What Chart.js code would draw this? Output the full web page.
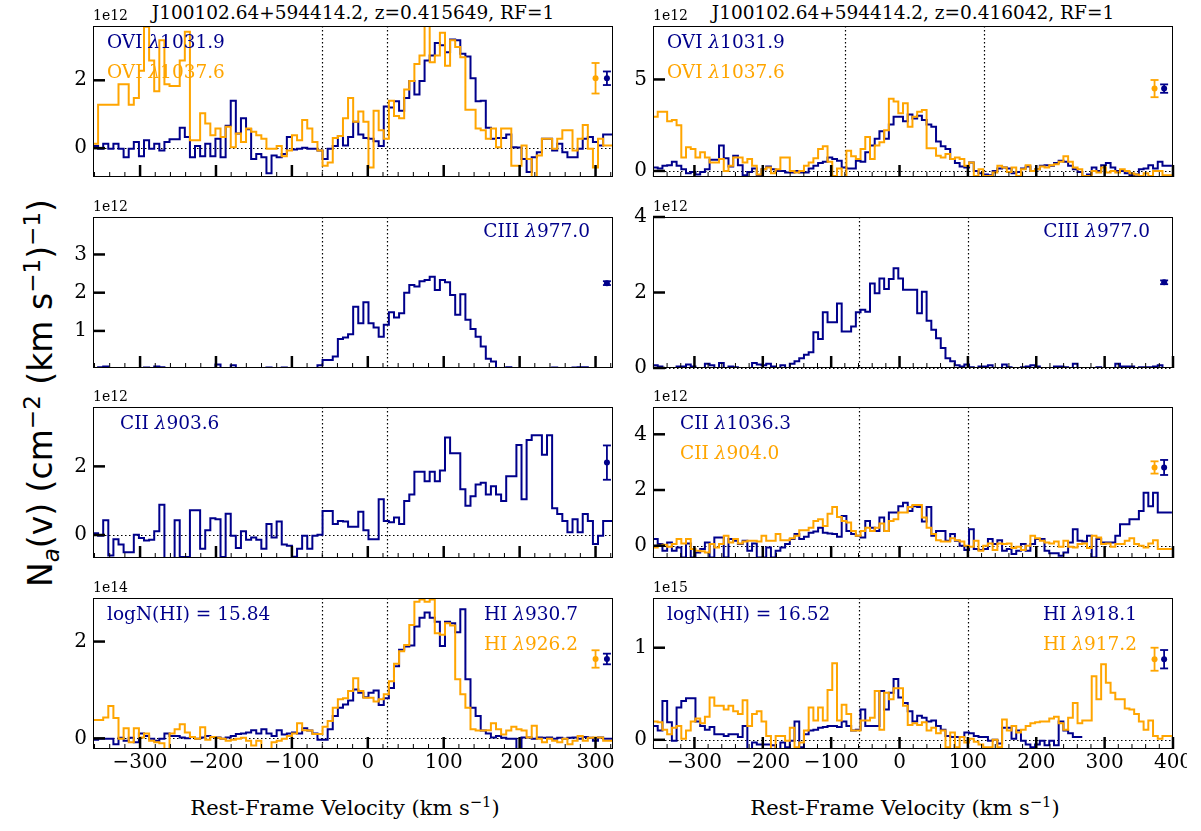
<!DOCTYPE html>
<html lang="en">
<head>
<meta charset="UTF-8" />
<title>J100102.64+594414.2 apparent column density profiles</title>
<script src="https://cdn.jsdelivr.net/npm/chart.js"></script>
<style>
    body {
        margin: 0;
        background: #fff;
        width: 1201px;
        height: 831px;
        position: relative;
        overflow: hidden;
    }
    canvas.panel {
        position: absolute;
    }
    .txt {
        position: absolute;
        transform: translate(-50%, -50%);
        white-space: nowrap;
        color: #000;
    }
    .serif {
        font-family: 'DejaVu Serif', serif;
    }
    .title { font-size: 18.5px; }
    .xlabel { font-size: 21px; }
    #ylabel {
        font-family: 'DejaVu Sans', sans-serif;
        font-size: 33px;
        transform: translate(-50%, -50%) rotate(-90deg);
    }
    sup, sub {
        font-size: 0.7em;
        line-height: 0;
    }
</style>
</head>
<body>

<div class="txt serif title" style="left:353px; top:12px;">J100102.64+594414.2, z=0.415649, RF=1</div>
<div class="txt serif title" style="left:913px; top:12px;">J100102.64+594414.2, z=0.416042, RF=1</div>
<div class="txt serif xlabel" style="left:345px; top:808px;">Rest-Frame Velocity (km s<sup>−1</sup>)</div>
<div class="txt serif xlabel" style="left:905px; top:808px;">Rest-Frame Velocity (km s<sup>−1</sup>)</div>
<div class="txt" id="ylabel" style="left:40px; top:393px;">N<sub><i>a</i></sub>(v) (cm<sup>−2</sup> (km s<sup>−1</sup>)<sup>−1</sup>)</div>

<script>
    const NAVY = '#00008b';
    const ORANGE = '#ffa500';

    // velocity grids (left edge of first pixel, pixel width in km/s)
    const velLeftStart = -362, velLeftStep = 6.72;
    const velRightStart = -360.6, velRightStep = 6.9;

    // ---- z = 0.415649 system (units of the offset shown above each panel) ----
    const ovi1031_a = [
        -0.32, 0.06, -0.02, 0.13, -0.02, 0.13, -0.02, -0.27, -0.02, 0.18,
        -0.24, 0.23, -0.02, 0.13, -0.07, 0.18, 0.26, 0.26, 0.60, 0.33,
        -0.27, 0.06, -0.24, 0.13, -0.24, 0.28, -0.27, 0.66, 1.40, 0.43,
        0.88, 0.56, -0.32, -0.17, -0.27, -0.74, -0.22, -0.27, -0.17, 0.33,
        -0.04, -0.02, 0.01, -0.02, -0.02, -0.07, -0.32, -0.02, 0.06, 0.36,
        0.08, 0.33, 0.78, 0.40, 0.30, 0.28, 0.20, 0.06, 1.23, 1.20,
        1.38, 1.10, 1.48, 1.98, 1.58, 1.98, 2.58, 2.73, 3.10, 3.03,
        2.83, 3.20, 3.18, 2.78, 2.70, 2.06, 1.38, 1.40, 0.60, 0.28,
        0.30, 0.30, 0.40, 0.03, 0.02, -0.32, -0.70, -0.27, -0.12, 0.28,
        0.28, -0.07, 0.13, -0.12, -0.27, -0.27, -0.02, 0.28, 0.33, 0.18,
        0.08, 0.40
    ];
    const ovi1037_a = [
        1.33, 0.13, 1.28, 1.28, 1.28, 1.28, 1.88, 1.88, 1.28, 1.48,
        2.28, 3.58, 2.58, 1.68, 3.18, 1.88, 1.83, 1.83, 2.58, 3.43,
        0.23, 0.23, 1.03, 0.73, 0.38, 0.58, 0.33, 0.63, 0.03, 0.43,
        0.18, 0.58, 0.48, 0.38, 0.28, -0.02, -0.02, 0.06, -0.24, -0.07,
        0.38, 0.23, 0.83, 0.58, 0.18, -0.07, -0.52, -0.42, 0.30, 0.36,
        0.88, 1.48, 0.78, 1.08, 0.78, -0.57, 1.10, 0.53, 0.28, 1.40,
        0.95, 0.88, 1.73, 1.98, 2.48, 2.73, 3.63, 2.53, 2.73, 3.40,
        2.43, 3.18, 2.98, 2.68, 1.13, 1.13, 0.58, 0.53, 0.28, 0.58,
        0.03, 0.58, 0.58, -0.52, -0.52, 0.08, -0.32, -0.92, -0.22, 0.28,
        0.28, -0.02, 0.28, 0.53, 0.53, -0.07, 0.28, 0.68, -0.02, -0.57,
        0.28, 0.08
    ];
    const ciii977_a = [
        0, 0, 0.05, 0.07, 0, -0.1, 0, 0, 0, -0.05,
        0, 0.04, 0.02, 0.07, 0.05, 0.03, -0.05, 0, 0.03, -0.1,
        -0.1, 0, 0.02, -0.1, 0, 0.12, -0.05, 0, 0.1, 0,
        -0.1, -0.05, 0.02, 0.03, -0.02, 0.04, 0.03, -0.05, 0.04, 0.01,
        -0.1, 0.02, 0.01, -0.1, 0.02, 0.10, 0.24, 0.24, 0.33, 0.79,
        0.83, 0.91, 1.63, 1.20, 1.75, 1.20, 1.09, 0.85, 1.16, 1.49,
        1.35, 1.46, 2.00, 2.20, 2.16, 2.30, 2.33, 2.42, 2.07, 2.33,
        2.27, 1.94, 1.42, 1.96, 1.29, 1.05, 0.85, 0.59, 0.27, 0.20,
        0.03, 0.03, 0.05, 0.02, -0.05, 0, 0.01, -0.1, 0.02, 0.03,
        -0.02, 0.04, -0.05, 0, 0.01, 0.04, 0.05, 0.05, -0.03, 0,
        0.02, -0.05
    ];
    const cii903_a = [
        -0.12, 0.05, -0.02, 0.43, -0.60, -0.12, -0.28, -0.50, -0.50, 0.01,
        -0.09, -0.16, -0.14, 0.11, 0.88, -0.69, -0.69, 0.43, -0.64, -0.64,
        0.72, 0.72, -0.40, 0.14, 0.49, 0.46, -0.64, 0.62, -0.02, -0.38,
        0.11, -0.14, -0.07, -0.14, -0.40, 0.32, -0.07, 0.39, -0.28, -0.31,
        -0.63, -0.40, -0.02, -0.40, -0.02, 0.01, 0.70, 0.70, 0.32, 0.41,
        0.39, 0.24, 0.24, 0.68, 0.14, -0.12, -0.12, 1.04, 0.41, 0.37,
        0.51, 0.32, 0.99, 1.18, 1.84, 1.84, 1.57, 1.84, 1.57, 1.88,
        2.84, 2.38, 2.38, 1.33, 0.85, 1.13, 1.47, 1.52, 1.18, 1.42,
        1.18, 0.99, 1.71, 1.71, 2.62, 1.04, 2.77, 2.91, 2.91, 2.34,
        2.91, 0.78, 0.61, 0.41, 0.08, 0.46, 0.08, 0.61, 0.41, -0.26,
        -0.02, 0.41
    ];
    const hi930_a = [
        0.02, -0.03, -0.01, -0.01, -0.01, -0.12, 0.01, -0.05, 0.01, -0.08,
        0.10, 0.05, -0.01, -0.05, -0.01, 0.10, 0.05, 0.05, 0.02, 0.00,
        0.03, -0.01, 0.02, 0.05, 0.03, 0.02, -0.01, 0.02, 0.05, 0.09,
        0.10, 0.12, 0.17, 0.10, 0.19, 0.10, 0.05, 0.17, 0.08, 0.10,
        0.12, 0.10, 0.21, 0.16, 0.10, -0.03, -0.03, 0.19, 0.46, 0.63,
        0.70, 0.78, 1.01, 0.94, 0.85, 0.94, 0.99, 0.69, 0.83, 1.04,
        1.49, 1.83, 1.90, 1.92, 2.31, 2.49, 2.60, 2.49, 2.41, 1.91,
        2.41, 2.38, 2.19, 2.67, 1.22, 0.63, 0.46, 0.16, 0.10, 0.02,
        0.05, 0.01, -0.01, -0.01, -0.22, 0.02, 0.02, -0.01, 0.02, 0.01,
        0.02, -0.01, 0.01, -0.01, 0.01, 0.02, -0.01, 0.03, 0.01, -0.05,
        0.02, -0.01
    ];
    const hi926_a = [
        -0.08, 0.38, 0.38, 0.43, 0.67, 0.42, -0.01, 0.21, -0.08, 0.21,
        0.02, 0.10, -0.05, -0.08, -0.10, -0.22, 0.10, 0.19, 0.29, 0.12,
        0.03, -0.01, 0.23, -0.03, 0.03, 0.01, -0.01, -0.05, -0.03, -0.01,
        0.01, -0.05, -0.15, -0.05, -0.22, -0.22, -0.08, -0.05, -0.01, 0.05,
        0.10, 0.31, 0.17, 0.16, 0.09, 0.09, 0.24, 0.36, 0.63, 0.81,
        0.83, 0.98, 1.24, 0.98, 0.84, 0.84, 0.76, 0.81, 0.91, 1.18,
        1.54, 1.80, 1.93, 2.34, 2.82, 2.87, 2.82, 2.87, 2.17, 2.14,
        2.38, 2.33, 1.22, 0.91, 0.63, 0.19, 0.16, 0.16, 0.17, 0.31,
        0.19, 0.08, 0.16, 0.24, 0.19, 0.16, 0.02, 0.26, -0.01, -0.08,
        -0.01, -0.05, -0.08, -0.01, -0.12, -0.05, 0.05, -0.05, 0.01, 0.02,
        0.02, -0.05
    ];

    // ---- z = 0.416042 system ----
    const ovi1031_b = [
        0.09, 0.19, 0.13, 0.28, 0.31, 0.50, 0.28, 0.09, -0.13, -0.06,
        -0.19, -0.06, 0.09, 0.61, 0.61, 1.39, 0.69, 0.24, 0.83, 0.31,
        -0.24, -0.06, 0.13, -0.24, 0.09, 0.24, 0.09, 0.00, 0.00, -0.09,
        -0.09, 0.00, -0.09, -0.09, 0.13, 0.28, 0.43, 0.50, 0.74, 0.65,
        0.56, 0.19, 0.13, 0.13, 0.56, 0.50, 1.02, 1.39, 1.76, 2.17,
        1.76, 2.54, 2.96, 2.96, 2.72, 3.09, 2.87, 3.02, 2.78, 2.54,
        2.41, 1.61, 1.35, 1.20, 0.65, 0.43, 0.24, 0.19, 0.46, 0.00,
        -0.13, -0.19, -0.24, 0.00, 0.13, 0.19, 0.13, -0.13, -0.06, 0.13,
        0.24, 0.00, 0.09, 0.28, 0.31, 0.28, 0.43, 0.56, 0.50, 0.28,
        0.09, -0.06, -0.28, -0.19, 0.19, 0.00, 0.31, 0.43, 0.19, 0.00,
        0.00, -0.13, -0.24, -0.19, 0.09, 0.13, 0.31, 0.13, 0.50, 0.28
    ];
    const ovi1037_b = [
        2.41, 2.96, 3.24, 3.24, 2.72, 2.78, 2.50, 0.74, 1.30, 1.20,
        0.74, 1.02, 0.74, 0.46, 0.46, 0.65, 0.00, 0.28, 0.74, 0.74,
        0.46, 0.65, 0.28, -0.19, 0.09, 0.19, -0.13, 0.09, 0.74, 0.74,
        0.00, -0.09, 0.00, 0.28, 0.46, 0.69, 1.20, 1.35, 0.50, -0.28,
        0.13, -0.43, 1.11, 0.80, 0.65, 1.20, 1.85, 0.65, 1.39, 1.57,
        2.22, 3.94, 3.80, 3.15, 3.70, 2.41, 2.96, 3.24, 3.33, 1.24,
        1.24, 0.83, 0.74, 0.93, 0.65, 0.74, 0.65, 0.28, 0.46, -0.28,
        0.09, -0.28, -0.28, -0.09, 0.28, 0.19, -0.06, 0.19, -0.28, 0.09,
        0.31, 0.00, 0.09, 0.24, 0.19, 0.31, 0.37, 0.50, 0.80, 0.50,
        0.19, 0.09, -0.28, -0.28, 0.00, -0.09, 0.19, -0.09, 0.00, -0.09,
        0.09, 0.00, -0.13, -0.19, -0.28, -0.13, -0.28, 0.00, 0.00, -0.24
    ];
    const ciii977_b = [
        0.09, 0.07, 0.04, 0.00, 0.00, 0.00, 0.04, 0.04, 0.09, 0.04,
        0.00, 0.00, 0.11, 0.07, 0.00, 0.13, 0.00, 0.04, 0.02, 0.00,
        0.00, 0.00, 0.13, 0.09, 0.07, 0.11, 0.04, 0.00, 0.07, 0.00,
        0.11, 0.18, 0.26, 0.35, 0.42, 0.95, 0.77, 1.48, 1.21, 1.21,
        1.71, 0.97, 0.97, 1.10, 1.48, 1.54, 1.49, 2.24, 1.98, 2.37,
        2.09, 2.36, 2.64, 2.37, 2.07, 2.07, 2.07, 1.45, 2.02, 1.25,
        1.01, 0.79, 0.53, 0.26, 0.18, 0.07, 0.04, 0.09, 0.02, 0.00,
        0.04, 0.04, 0.07, 0.00, 0.00, 0.09, 0.02, 0.00, 0.00, 0.02,
        0.04, 0.07, 0.04, 0.00, 0.00, 0.00, 0.04, 0.04, 0.02, 0.00,
        0.11, 0.00, 0.00, 0.00, 0.00, 0.02, 0.00, 0.00, 0.00, 0.11,
        0.04, 0.04, 0.04, 0.00, 0.02, 0.02, 0.02, 0.04, 0.07, 0.00
    ];
    const cii1036_b = [
        -0.42, 0.24, 0.06, -0.18, 0.12, -0.18, -0.06, -0.42, 0.08, -0.42,
        -0.24, -0.12, 0.12, -0.42, 0.30, 0.30, -0.42, 0.24, 0.18, 0.06,
        0.18, -0.18, 0.08, -0.42, -0.42, -0.06, -0.42, -0.18, -0.06, 0.06,
        0.24, 0.42, 0.24, 0.32, 0.47, 0.51, 0.65, 0.47, 0.44, 0.42,
        0.32, 1.07, 0.53, 0.42, 0.36, 0.30, 0.89, 0.65, 0.53, 1.01,
        0.53, 1.19, 1.19, 1.42, 1.54, 1.25, 1.42, 1.39, 0.87, 1.39,
        0.36, 0.53, 0.53, 0.18, 0.42, 0.18, 0.00, -0.15, 0.59, -0.12,
        -0.15, -0.12, 0.24, 0.06, 0.20, -0.18, -0.12, -0.30, -0.18, 0.06,
        -0.18, 0.06, 0.24, 0.24, -0.18, -0.27, -0.27, -0.36, -0.24, 0.12,
        0.59, 0.18, 0.15, 0.36, -0.42, 0.24, 0.12, 0.12, 0.12, 0.36,
        0.77, 0.77, 0.95, 0.95, 1.25, 1.90, 1.42, 1.90, 1.19, 1.19
    ];
    const cii904_b = [
        -0.08, -0.06, 0.00, 0.04, -0.04, 0.06, 0.24, 0.08, 0.24, -0.12,
        -0.18, -0.20, -0.24, 0.06, -0.06, 0.06, 0.36, 0.12, 0.24, 0.08,
        0.15, 0.18, 0.18, 0.15, 0.36, 0.18, 0.18, 0.42, 0.20, 0.20,
        0.27, 0.36, 0.56, 0.56, 0.65, 0.89, 0.95, 0.71, 1.15, 1.39,
        1.03, 0.89, 0.83, 0.53, 0.36, 0.53, 0.65, 0.53, 0.65, 0.80,
        0.53, 0.89, 0.95, 1.19, 1.19, 1.39, 1.46, 1.46, 1.01, 0.65,
        0.42, 0.20, 0.15, 0.15, 0.27, 0.20, 0.15, 0.00, -0.04, 0.18,
        -0.18, 0.00, 0.08, -0.15, 0.08, 0.06, 0.08, -0.08, -0.04, -0.15,
        0.00, 0.36, 0.27, 0.18, 0.12, 0.08, 0.15, -0.04, 0.18, -0.04,
        -0.06, 0.06, 0.08, -0.08, 0.36, 0.30, 0.06, 0.08, -0.04, 0.06,
        0.06, 0.18, 0.27, 0.06, 0.00, -0.06, 0.08, 0.20, -0.12, -0.12
    ];
    const hi918_b = [
        0.18, 0.15, 0.10, 0.42, 0.19, -0.01, 0.35, 0.42, 0.45, 0.45,
        0.20, 0.15, 0.11, 0.14, 0.06, 0.06, 0.04, 0.06, 0.06, 0.03,
        0.15, -0.10, -0.03, -0.05, -0.05, -0.05, -0.06, -0.10, -0.03, -0.08,
        -0.01, 0.20, -0.08, 0.06, 0.10, 0.11, 0.13, 0.14, 0.15, 0.15,
        0.14, 0.20, 0.15, 0.10, 0.11, 0.33, 0.15, 0.15, 0.15, 0.53,
        0.33, 0.51, 0.66, 0.46, 0.40, 0.31, 0.20, 0.26, 0.24, 0.20,
        0.21, 0.15, 0.11, 0.04, 0.03, 0.03, 0.03, 0.08, 0.07, 0.04,
        0.03, 0.03, -0.01, 0.00, -0.04, 0.13, 0.13, 0.01, 0.10, -0.01,
        -0.05, -0.08, -0.05, -0.01, -0.06, -0.01, -0.06, 0.20, 0.10, 0.07,
        0.03
    ];
    const hi917_b = [
        0.19, 0.20, 0.19, 0.11, 0.06, 0.13, 0.15, 0.01, 0.10, 0.20,
        0.23, 0.18, 0.25, 0.46, 0.37, 0.37, 0.33, 0.37, 0.31, 0.28,
        0.43, 0.15, 0.28, 0.31, 0.20, 0.04, -0.10, 0.04, 0.04, -0.01,
        0.13, -0.08, -0.03, 0.10, 0.35, 0.21, 0.35, 0.21, 0.54, 0.83,
        0.21, 0.38, 0.28, 0.10, 0.10, 0.21, 0.21, 0.24, 0.53, 0.11,
        0.51, 0.44, 0.56, 0.56, 0.37, 0.16, 0.18, 0.16, 0.19, 0.10,
        0.13, 0.07, 0.10, -0.08, 0.08, -0.08, 0.03, -0.03, 0.01, -0.02,
        -0.05, -0.08, -0.08, 0.00, -0.08, 0.22, 0.10, 0.15, 0.08, 0.11,
        0.15, 0.18, 0.19, 0.20, 0.20, 0.23, 0.25, 0.18, 0.11, 0.24,
        0.40, 0.18, 0.21, 0.21, 0.69, 0.44, 0.82, 0.62, 0.51, 0.44,
        0.44, 0.34, 0.33, 0.28, 0.20, 0.11, 0.21, 0.04, 0.01, 0.04
    ];

    // typical per-pixel uncertainty markers: [centre, half-width]
    const errOvi_a = { orange: [2.06, 0.45], navy: [2.06, 0.20] };
    const errCiii_a = { navy: [2.25, 0.05] };
    const errCii_a = { navy: [2.11, 0.50] };
    const errHi_a = { orange: [1.64, 0.18], navy: [1.64, 0.11] };
    const errOvi_b = { orange: [4.50, 0.47], navy: [4.50, 0.23] };
    const errCiii_b = { navy: [2.27, 0.05] };
    const errCii_b = { orange: [2.81, 0.22], navy: [2.81, 0.27] };
    const errHi_b = { orange: [0.875, 0.125], navy: [0.875, 0.10] };

    const xTicksLeft = [-300, -200, -100, 0, 100, 200, 300];
    const xTicksRight = [-300, -200, -100, 0, 100, 200, 300, 400];

    // plot-area geometry
    const COL_X = [93, 653];
    const ROW_Y = [26, 217, 407, 598];
    const PLOT_W = 520, PLOT_H = 151;
    const PAD = { left: 60, top: 26, right: 14, bottom: 34 };

    const cols = [
        { v0: velLeftStart, dv: velLeftStep, xMin: -362, xMax: 323, xTicks: xTicksLeft, errX: [300, 315] },
        { v0: velRightStart, dv: velRightStep, xMin: -360.6, xMax: 400, xTicks: xTicksRight, errX: [373, 387] }
    ];

    const panels = [
        { col: 0, row: 0, offset: '1e12', yMin: -0.85, yMax: 3.6, yTicks: [0, 2], vlines: [-60, 25],
          navy: ovi1031_a, orange: ovi1037_a, err: errOvi_a,
          labels: [{ t: 'OVI λ1031.9', c: NAVY, x: 14, y: 17 }, { t: 'OVI λ1037.6', c: ORANGE, x: 14, y: 47 }] },
        { col: 1, row: 0, offset: '1e12', yMin: -0.33, yMax: 7.92, yTicks: [0, 5], vlines: [-80, 124],
          navy: ovi1031_b, orange: ovi1037_b, err: errOvi_b,
          labels: [{ t: 'OVI λ1031.9', c: NAVY, x: 14, y: 17 }, { t: 'OVI λ1037.6', c: ORANGE, x: 14, y: 47 }] },
        { col: 0, row: 1, offset: '1e12', yMin: 0.03, yMax: 3.98, yTicks: [1, 2, 3], vlines: [-60, 25],
          navy: ciii977_a, err: errCiii_a,
          labels: [{ t: 'CIII λ977.0', c: NAVY, x: 497, y: 15, right: true }] },
        { col: 1, row: 1, offset: '1e12', yMin: 0, yMax: 4, yTicks: [0, 2, 4], vlines: [-60, 100],
          navy: ciii977_b, err: errCiii_b,
          labels: [{ t: 'CIII λ977.0', c: NAVY, x: 497, y: 15, right: true }] },
        { col: 0, row: 2, offset: '1e12', yMin: -0.67, yMax: 3.73, yTicks: [0, 2], vlines: [-60, 25],
          navy: cii903_a, err: errCii_a,
          labels: [{ t: 'CII λ903.6', c: NAVY, x: 27, y: 17 }] },
        { col: 1, row: 2, offset: '1e12', yMin: -0.44, yMax: 4.98, yTicks: [0, 2, 4], vlines: [-60, 100],
          navy: cii1036_b, orange: cii904_b, err: errCii_b,
          labels: [{ t: 'CII λ1036.3', c: NAVY, x: 27, y: 17 }, { t: 'CII λ904.0', c: ORANGE, x: 27, y: 47 }] },
        { col: 0, row: 3, offset: '1e14', yMin: -0.22, yMax: 2.9, yTicks: [0, 2], vlines: [-60, 25],
          navy: hi930_a, orange: hi926_a, err: errHi_a,
          labels: [{ t: 'logN(HI) = 15.84', c: NAVY, x: 14, y: 17 },
                   { t: 'HI λ930.7', c: NAVY, x: 485, y: 17, right: true },
                   { t: 'HI λ926.2', c: ORANGE, x: 485, y: 47, right: true }] },
        { col: 1, row: 3, offset: '1e15', yMin: -0.1, yMax: 1.54, yTicks: [0, 1], vlines: [-60, 100],
          navy: hi918_b, orange: hi917_b, err: errHi_b,
          labels: [{ t: 'logN(HI) = 16.52', c: NAVY, x: 14, y: 17 },
                   { t: 'HI λ918.1', c: NAVY, x: 484, y: 17, right: true },
                   { t: 'HI λ917.2', c: ORANGE, x: 484, y: 47, right: true }] }
    ];

    // pixel values -> step outline (each value held across its pixel)
    function toSteps(values, v0, dv) {
        const pts = values.map((y, i) => ({ x: v0 + i * dv, y: y }));
        pts.push({ x: v0 + values.length * dv, y: values[values.length - 1] });
        return pts;
    }

    function fmt(v) {
        return v < 0 ? '\u2212' + Math.abs(v) : String(v);
    }

    function seg(ctx, x1, y1, x2, y2) {
        ctx.beginPath();
        ctx.moveTo(x1, y1);
        ctx.lineTo(x2, y2);
        ctx.stroke();
    }

    // species label with an italic lambda
    function drawLabel(ctx, lab, a) {
        const parts = lab.t.split('λ');
        const up = '18.5px "DejaVu Serif", serif', it = 'italic 18.5px "DejaVu Serif", serif';
        const pieces = [];
        parts.forEach((p, i) => {
            if (i > 0) pieces.push(['λ', it]);
            if (p) pieces.push([p, up]);
        });
        let w = 0;
        pieces.forEach(p => { ctx.font = p[1]; w += ctx.measureText(p[0]).width; });
        let x = a.left + lab.x - (lab.right ? w : 0);
        const y = a.top + lab.y;
        ctx.fillStyle = lab.c;
        ctx.textAlign = 'left';
        ctx.textBaseline = 'middle';
        pieces.forEach(p => {
            ctx.font = p[1];
            ctx.fillText(p[0], x, y);
            x += ctx.measureText(p[0]).width;
        });
    }

    function decor(panel, col) {
        return {
            id: 'decor',
            beforeDatasetsDraw(chart) {
                const { ctx, chartArea: a, scales: { x, y } } = chart;
                ctx.save();
                ctx.strokeStyle = '#000';
                ctx.lineWidth = 1.2;
                ctx.setLineDash([1.5, 2.5]);
                panel.vlines.forEach(v => {
                    const px = Math.round(x.getPixelForValue(v)) + 0.5;
                    seg(ctx, px, a.top, px, a.bottom);
                });
                if (panel.yMin <= 0) {
                    const py = Math.round(y.getPixelForValue(0)) + 0.5;
                    seg(ctx, a.left, py, a.right, py);
                }
                ctx.restore();
            },
            afterDatasetsDraw(chart) {
                const { ctx, chartArea: a, scales: { x, y } } = chart;
                ctx.save();
                ctx.setLineDash([]);

                // frame
                ctx.strokeStyle = '#000';
                ctx.lineWidth = 1;
                ctx.strokeRect(a.left + 0.5, a.top + 0.5, a.right - a.left - 1, a.bottom - a.top - 1);

                // x ticks, pointing inward from the bottom spine
                for (let v = -360; v <= col.xMax + 0.01; v += 20) {
                    if (v < col.xMin) continue;
                    const px = x.getPixelForValue(v);
                    const major = v % 100 === 0;
                    ctx.lineWidth = major ? 2.5 : 1;
                    seg(ctx, px, a.bottom, px, a.bottom - (major ? 12 : 5));
                }
                // y ticks, pointing inward from the left spine
                ctx.lineWidth = 2.5;
                panel.yTicks.forEach(t => {
                    const py = y.getPixelForValue(t);
                    seg(ctx, a.left, py, a.left + 12, py);
                });

                // tick labels
                ctx.fillStyle = '#000';
                ctx.font = '20px "DejaVu Serif", serif';
                ctx.textAlign = 'right';
                ctx.textBaseline = 'middle';
                panel.yTicks.forEach(t => ctx.fillText(fmt(t), a.left - 6, y.getPixelForValue(t)));
                if (panel.row === 3) {
                    ctx.textAlign = 'center';
                    ctx.textBaseline = 'middle';
                    col.xTicks.forEach(t => ctx.fillText(fmt(t), x.getPixelForValue(t), a.bottom + 14));
                }

                // scale offset
                ctx.font = '14px "DejaVu Serif", serif';
                ctx.textAlign = 'left';
                ctx.textBaseline = 'bottom';
                ctx.fillText(panel.offset, a.left, a.top - 3);

                // error markers
                [['orange', ORANGE, col.errX[0]], ['navy', NAVY, col.errX[1]]].forEach(([k, c, v]) => {
                    const e = panel.err[k];
                    if (!e) return;
                    const px = x.getPixelForValue(v);
                    const pc = y.getPixelForValue(e[0]);
                    const pt = y.getPixelForValue(e[0] + e[1]);
                    const pb = y.getPixelForValue(e[0] - e[1]);
                    ctx.strokeStyle = c;
                    ctx.fillStyle = c;
                    ctx.lineWidth = 1.8;
                    seg(ctx, px, pt, px, pb);
                    seg(ctx, px - 4, pt, px + 4, pt);
                    seg(ctx, px - 4, pb, px + 4, pb);
                    ctx.beginPath();
                    ctx.arc(px, pc, 3, 0, Math.PI * 2);
                    ctx.fill();
                });

                panel.labels.forEach(lab => drawLabel(ctx, lab, a));
                ctx.restore();
            }
        };
    }

    panels.forEach((panel) => {
        const col = cols[panel.col];
        const canvas = document.createElement('canvas');
        canvas.className = 'panel';
        canvas.width = PLOT_W + PAD.left + PAD.right;
        canvas.height = PLOT_H + PAD.top + PAD.bottom;
        canvas.style.left = (COL_X[panel.col] - PAD.left) + 'px';
        canvas.style.top = (ROW_Y[panel.row] - PAD.top) + 'px';
        document.body.appendChild(canvas);

        const datasets = [];
        if (panel.orange) {
            datasets.push({ data: toSteps(panel.orange, col.v0, col.dv), borderColor: ORANGE, order: 0 });
        }
        datasets.push({ data: toSteps(panel.navy, col.v0, col.dv), borderColor: NAVY, order: 1 });
        datasets.forEach(d => {
            d.borderWidth = 2;
            d.pointRadius = 0;
            d.stepped = 'after';
            d.fill = false;
        });

        new Chart(canvas.getContext('2d'), {
            type: 'line',
            data: { datasets: datasets },
            options: {
                responsive: false,
                animation: false,
                devicePixelRatio: 1,
                events: [],
                layout: { padding: PAD },
                plugins: { legend: { display: false }, tooltip: { enabled: false } },
                scales: {
                    x: { type: 'linear', min: col.xMin, max: col.xMax, display: false },
                    y: { type: 'linear', min: panel.yMin, max: panel.yMax, display: false }
                }
            },
            plugins: [decor(panel, col)]
        });
    });
</script>

</body>
</html>
